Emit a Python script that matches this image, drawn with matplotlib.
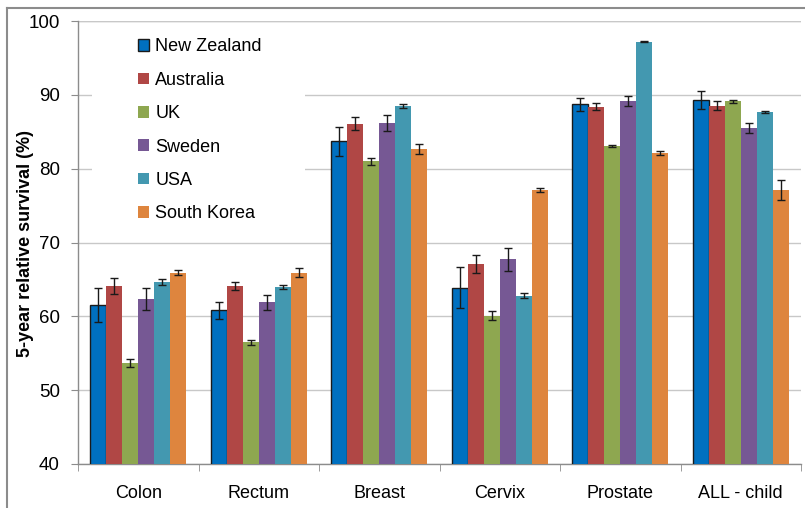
import matplotlib
matplotlib.use('Agg')
import matplotlib.pyplot as plt
from matplotlib import rcParams
from matplotlib.patches import Rectangle
from matplotlib.lines import Line2D
import numpy as np
rcParams['font.family'] = 'sans-serif'
rcParams['font.sans-serif'] = ['Liberation Sans', 'DejaVu Sans']

# data
sites = ['Colon', 'Rectum', 'Breast', 'Cervix', 'Prostate', 'ALL - child']
countries = ['New Zealand', 'Australia', 'UK', 'Sweden', 'USA', 'South Korea']

new_zealand = [61.6, 60.8, 83.7, 63.9, 88.7, 89.3]
australia = [64.1, 64.1, 86.1, 67.1, 88.4, 88.5]
uk = [53.7, 56.5, 81.0, 60.1, 83.1, 89.1]
sweden = [62.4, 61.9, 86.2, 67.7, 89.2, 85.5]
usa = [64.6, 64.0, 88.5, 62.8, 97.2, 87.7]
south_korea = [65.9, 65.9, 82.7, 77.1, 82.1, 77.1]

new_zealand_err = [2.3, 1.2, 2.0, 2.8, 0.9, 1.25]
australia_err = [1.1, 0.6, 0.9, 1.25, 0.5, 0.6]
uk_err = [0.5, 0.35, 0.5, 0.6, 0.15, 0.25]
sweden_err = [1.5, 1.0, 1.1, 1.6, 0.7, 0.7]
usa_err = [0.4, 0.25, 0.3, 0.3, 0.1, 0.15]
south_korea_err = [0.35, 0.6, 0.65, 0.3, 0.3, 1.3]

yticks = [40, 50, 60, 70, 80, 90, 100]

series = [new_zealand, australia, uk, sweden, usa, south_korea]
errors = [new_zealand_err, australia_err, uk_err, sweden_err, usa_err, south_korea_err]
colors = ['#0070C0', '#B04745', '#8EA750', '#765894', '#4398B0', '#DE853E']

fig = plt.figure(figsize=(8.05, 5.08), dpi=100)
ax = fig.add_axes([78 / 805, 1 - 464 / 508, 723 / 805, 443 / 508])

x = np.arange(len(sites))
width = 0.8 / len(series)
for i, (vals, err, col, name) in enumerate(zip(series, errors, colors, countries)):
	pos = x - 0.4 + width * (i + 0.5)
	edge = '#1a1a1a' if i == 0 else 'none'
	ax.bar(pos, vals, width, color=col, edgecolor=edge, linewidth=1.0, label=name, zorder=3)
	ax.errorbar(pos, vals, yerr=err, fmt='none', ecolor='#1a1a1a', elinewidth=1.0,
		capsize=3, capthick=1.0, zorder=4)

ax.set_ylim(40, 100)
ax.set_xlim(-0.5, len(sites) - 0.5)
ax.set_yticks(yticks)
ax.set_xticks(x)
ax.set_xticklabels(sites)
ax.set_xticks(np.arange(len(sites) + 1) - 0.5, minor=True)

ax.grid(axis='y', color='#C8C8C8', linewidth=1.0, zorder=0)
ax.set_axisbelow(True)
for s in ['top', 'right']:
	ax.spines[s].set_visible(False)
for s in ['left', 'bottom']:
	ax.spines[s].set_color('#8C8C8C')
	ax.spines[s].set_linewidth(1.0)

ax.tick_params(axis='y', direction='out', length=5, color='#8C8C8C', labelsize=13.5, pad=8)
ax.tick_params(axis='x', which='major', length=0, labelsize=13, pad=15)
ax.tick_params(axis='x', which='minor', direction='out', length=5, color='#8C8C8C')

ax.set_ylabel('5-year relative survival (%)', fontsize=13, fontweight='bold')
ax.yaxis.set_label_coords(-0.0605, 0.497)

# white legend box covering the gridlines
ax.add_patch(Rectangle((0.0194, 0.524), 0.295, 0.4715, transform=ax.transAxes,
	facecolor='white', edgecolor='none', zorder=2))
ax.axhline(100, color='#C8C8C8', linewidth=1.0, zorder=2.5)

ax.legend(loc='upper left', bbox_to_anchor=(0.083, 0.961), frameon=False, fontsize=13,
	handlelength=0.6, handleheight=0.6, handletextpad=0.35, labelspacing=0.91,
	borderpad=0, borderaxespad=0)

# grey chart-area border (top and left)
fig.add_artist(Line2D([7 / 805, 1], [1 - 7.5 / 508, 1 - 7.5 / 508], color='#8C8C8C', linewidth=1.5))
fig.add_artist(Line2D([7 / 805, 7 / 805], [0, 1 - 7.5 / 508], color='#8C8C8C', linewidth=1.5))

fig.savefig('out.png', dpi=100)
